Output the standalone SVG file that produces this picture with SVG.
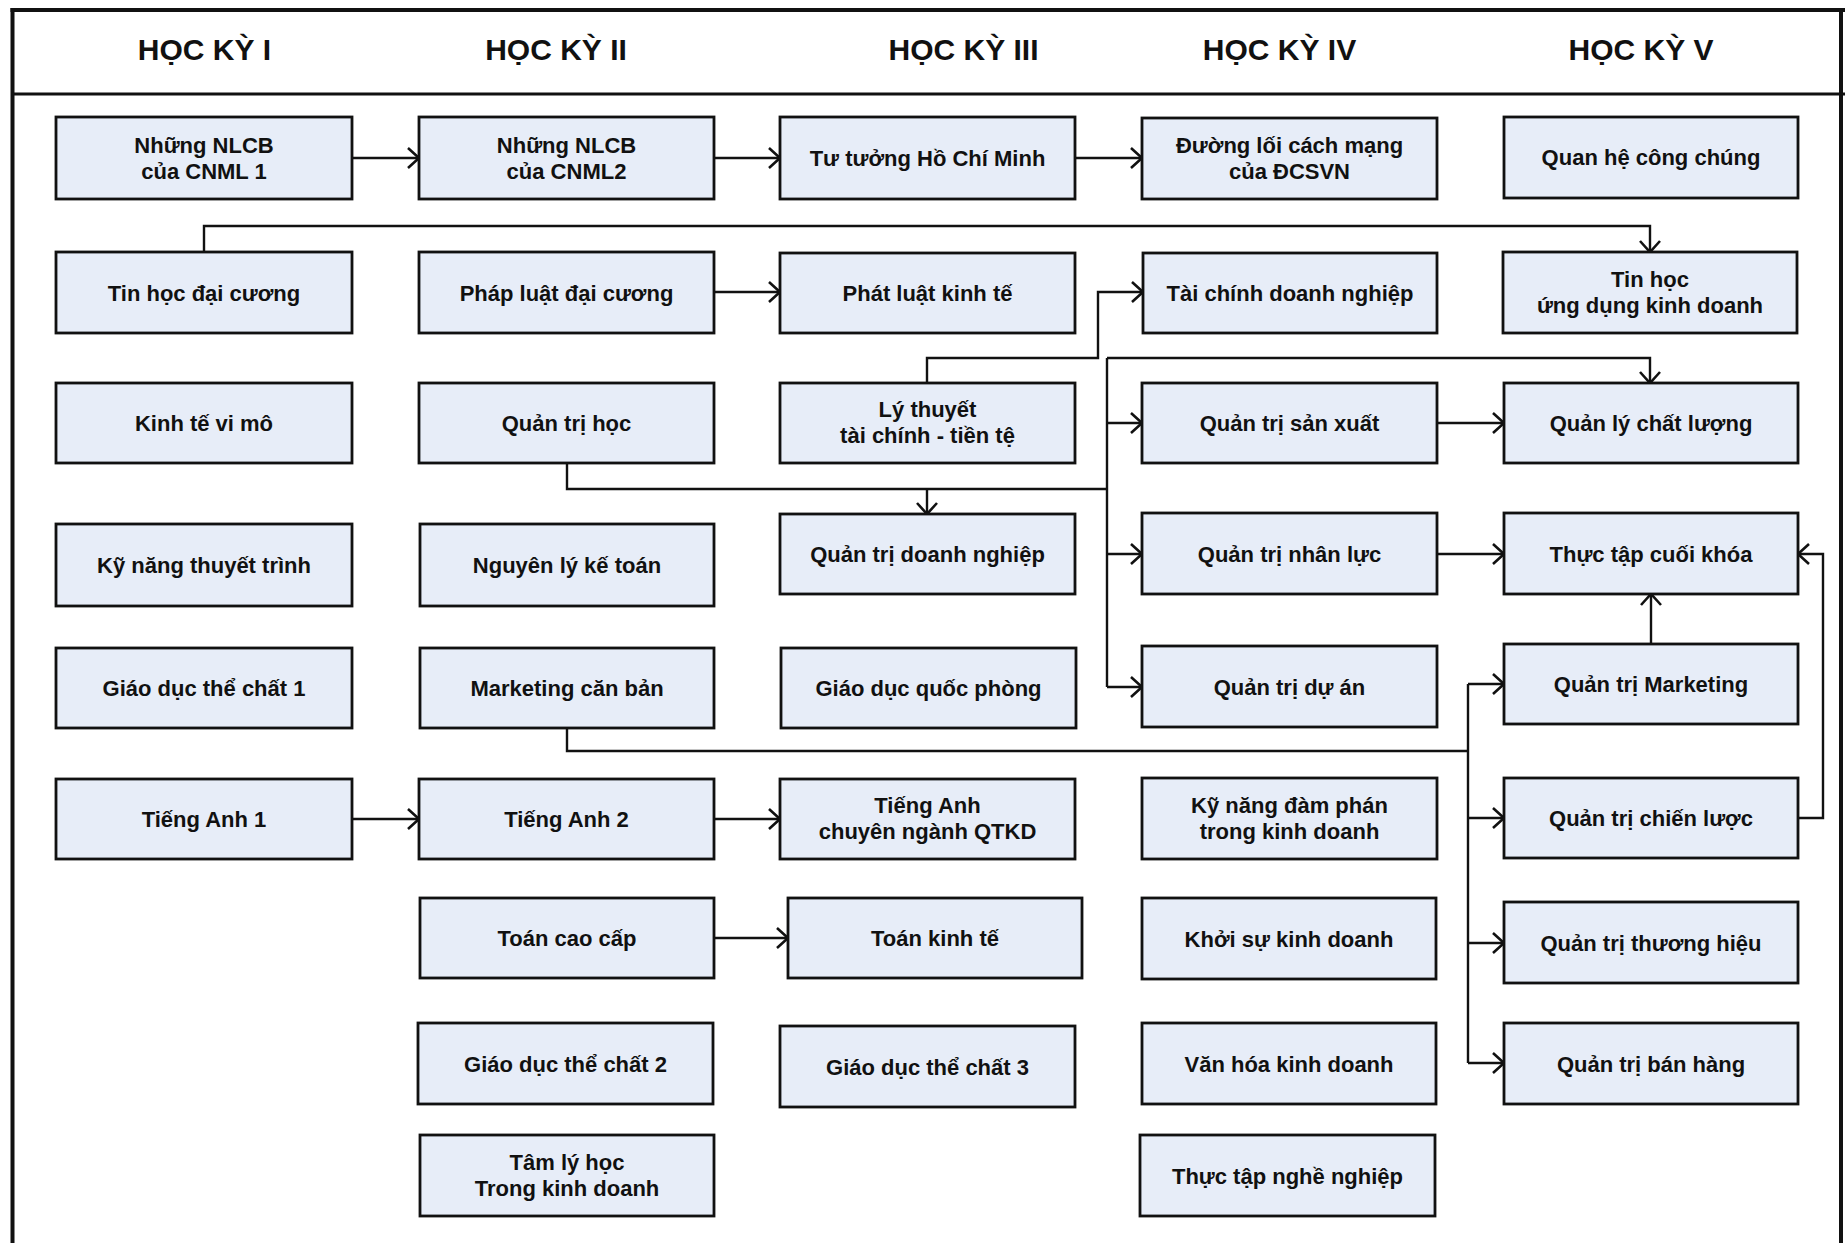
<svg xmlns="http://www.w3.org/2000/svg" width="1845" height="1243" viewBox="0 0 1845 1243">
<style>
.bx{fill:#E7EDF8;stroke:#111;stroke-width:2.8}
.t{font-family:"Liberation Sans",Arial,sans-serif;font-weight:bold;font-size:22px;fill:#111;text-anchor:middle}
.h{font-family:"Liberation Sans",Arial,sans-serif;font-weight:bold;font-size:30px;fill:#111;text-anchor:middle}
.c{fill:none;stroke:#111;stroke-width:2.4}
.ca{fill:none;stroke:#111;stroke-width:2.4;marker-end:url(#arr)}
.fr{fill:none;stroke:#111}
</style>
<defs>
<marker id="arr" viewBox="-13 -12 15 24" markerWidth="15" markerHeight="24" refX="0" refY="0" orient="auto" markerUnits="userSpaceOnUse">
<path d="M-11,-10 L0,0 L-11,10" fill="none" stroke="#111" stroke-width="2.6"/>
</marker>
</defs>
<rect width="1845" height="1243" fill="#fff"/>
<g id="frame">
<line class="fr" x1="10.5" y1="10" x2="1845" y2="10" stroke-width="4"/>
<line class="fr" x1="12.5" y1="8" x2="12.5" y2="1243" stroke-width="4"/>
<line class="fr" x1="1841" y1="8" x2="1841" y2="1243" stroke-width="4"/>
<line class="fr" x1="12" y1="94" x2="1845" y2="94" stroke-width="3"/>
</g>
<g id="headers">
<text class="h" x="204.5" y="59.5">HỌC KỲ I</text>
<text class="h" x="556" y="59.5">HỌC KỲ II</text>
<text class="h" x="963.5" y="59.5">HỌC KỲ III</text>
<text class="h" x="1279.5" y="59.5">HỌC KỲ IV</text>
<text class="h" x="1641" y="59.5">HỌC KỲ V</text>
</g>
<g id="connectors">
<line class="ca" x1="352" y1="158" x2="419" y2="158"/>
<line class="ca" x1="714" y1="158" x2="780" y2="158"/>
<line class="ca" x1="1075" y1="158" x2="1142" y2="158"/>
<path class="ca" d="M204,252 V226 H1650 V252"/>
<line class="ca" x1="714" y1="292" x2="780" y2="292"/>
<path class="ca" d="M927,383 V358 H1098 V292 H1143"/>
<path class="c" d="M567,463 V489 H1107"/>
<path class="ca" d="M927,489 V514"/>
<path class="c" d="M1107,358 V687"/>
<path class="ca" d="M1107,358 H1650 V383"/>
<line class="ca" x1="1107" y1="423" x2="1142" y2="423"/>
<line class="ca" x1="1107" y1="554" x2="1142" y2="554"/>
<line class="ca" x1="1107" y1="687" x2="1142" y2="687"/>
<line class="ca" x1="1437" y1="423" x2="1504" y2="423"/>
<line class="ca" x1="1437" y1="554" x2="1504" y2="554"/>
<line class="ca" x1="1651" y1="644" x2="1651" y2="594"/>
<path class="ca" d="M1798,818 H1823 V554 H1798"/>
<path class="c" d="M567,728 V751 H1468"/>
<path class="c" d="M1468,684 V1063"/>
<line class="ca" x1="1468" y1="684" x2="1504" y2="684"/>
<line class="ca" x1="1468" y1="818" x2="1504" y2="818"/>
<line class="ca" x1="1468" y1="943" x2="1504" y2="943"/>
<line class="ca" x1="1468" y1="1063" x2="1504" y2="1063"/>
<line class="ca" x1="352" y1="819" x2="419" y2="819"/>
<line class="ca" x1="714" y1="819" x2="780" y2="819"/>
<line class="ca" x1="714" y1="938" x2="788" y2="938"/>
</g>
<g id="n-nlcb1"><rect class="bx" x="56" y="117" width="296" height="82"/><text class="t" x="204" y="152.5">Những NLCB</text><text class="t" x="204" y="178.5">của CNML 1</text></g>
<g id="n-tinhocdc"><rect class="bx" x="56" y="252" width="296" height="81"/><text class="t" x="204" y="300.5">Tin học đại cương</text></g>
<g id="n-kinhtevimo"><rect class="bx" x="56" y="383" width="296" height="80"/><text class="t" x="204" y="431">Kinh tế vi mô</text></g>
<g id="n-kynangtt"><rect class="bx" x="56" y="524" width="296" height="82"/><text class="t" x="204" y="573">Kỹ năng thuyết trình</text></g>
<g id="n-gdtc1"><rect class="bx" x="56" y="648" width="296" height="80"/><text class="t" x="204" y="696">Giáo dục thể chất 1</text></g>
<g id="n-tienganh1"><rect class="bx" x="56" y="779" width="296" height="80"/><text class="t" x="204" y="827">Tiếng Anh 1</text></g>

<g id="n-nlcb2"><rect class="bx" x="419" y="117" width="295" height="82"/><text class="t" x="566.5" y="152.5">Những NLCB</text><text class="t" x="566.5" y="178.5">của CNML2</text></g>
<g id="n-phapluatdc"><rect class="bx" x="419" y="252" width="295" height="81"/><text class="t" x="566.5" y="300.5">Pháp luật đại cương</text></g>
<g id="n-quantrihoc"><rect class="bx" x="419" y="383" width="295" height="80"/><text class="t" x="566.5" y="431">Quản trị học</text></g>
<g id="n-nguyenlykt"><rect class="bx" x="420" y="524" width="294" height="82"/><text class="t" x="567" y="573">Nguyên lý kế toán</text></g>
<g id="n-marketingcb"><rect class="bx" x="420" y="648" width="294" height="80"/><text class="t" x="567" y="696">Marketing căn bản</text></g>
<g id="n-tienganh2"><rect class="bx" x="419" y="779" width="295" height="80"/><text class="t" x="566.5" y="827">Tiếng Anh 2</text></g>
<g id="n-toancc"><rect class="bx" x="420" y="898" width="294" height="80"/><text class="t" x="567" y="946">Toán cao cấp</text></g>
<g id="n-gdtc2"><rect class="bx" x="418" y="1023" width="295" height="81"/><text class="t" x="565.5" y="1071.5">Giáo dục thể chất 2</text></g>
<g id="n-tamlyhoc"><rect class="bx" x="420" y="1135" width="294" height="81"/><text class="t" x="567" y="1170">Tâm lý học</text><text class="t" x="567" y="1196">Trong kinh doanh</text></g>

<g id="n-tthcm"><rect class="bx" x="780" y="117" width="295" height="82"/><text class="t" x="927.5" y="166">Tư tưởng Hồ Chí Minh</text></g>
<g id="n-phatluatkt"><rect class="bx" x="780" y="253" width="295" height="80"/><text class="t" x="927.5" y="301">Phát luật kinh tế</text></g>
<g id="n-lythuyettc"><rect class="bx" x="780" y="383" width="295" height="80"/><text class="t" x="927.5" y="417">Lý thuyết</text><text class="t" x="927.5" y="443">tài chính - tiền tệ</text></g>
<g id="n-qtdn"><rect class="bx" x="780" y="514" width="295" height="80"/><text class="t" x="927.5" y="562">Quản trị doanh nghiệp</text></g>
<g id="n-gdqp"><rect class="bx" x="781" y="648" width="295" height="80"/><text class="t" x="928.5" y="696">Giáo dục quốc phòng</text></g>
<g id="n-tacn"><rect class="bx" x="780" y="779" width="295" height="80"/><text class="t" x="927.5" y="813">Tiếng Anh</text><text class="t" x="927.5" y="839">chuyên ngành QTKD</text></g>
<g id="n-toankt"><rect class="bx" x="788" y="898" width="294" height="80"/><text class="t" x="935" y="946">Toán kinh tế</text></g>
<g id="n-gdtc3"><rect class="bx" x="780" y="1026" width="295" height="81"/><text class="t" x="927.5" y="1074.5">Giáo dục thể chất 3</text></g>

<g id="n-duongloi"><rect class="bx" x="1142" y="118" width="295" height="81"/><text class="t" x="1289.5" y="153">Đường lối cách mạng</text><text class="t" x="1289.5" y="179">của ĐCSVN</text></g>
<g id="n-taichinhdn"><rect class="bx" x="1143" y="253" width="294" height="80"/><text class="t" x="1290" y="301">Tài chính doanh nghiệp</text></g>
<g id="n-qtsx"><rect class="bx" x="1142" y="383" width="295" height="80"/><text class="t" x="1289.5" y="431">Quản trị sản xuất</text></g>
<g id="n-qtnl"><rect class="bx" x="1142" y="513" width="295" height="81"/><text class="t" x="1289.5" y="561.5">Quản trị nhân lực</text></g>
<g id="n-qtda"><rect class="bx" x="1142" y="646" width="295" height="81"/><text class="t" x="1289.5" y="694.5">Quản trị dự án</text></g>
<g id="n-kndp"><rect class="bx" x="1142" y="778" width="295" height="81"/><text class="t" x="1289.5" y="812.5">Kỹ năng đàm phán</text><text class="t" x="1289.5" y="838.5">trong kinh doanh</text></g>
<g id="n-khoisu"><rect class="bx" x="1142" y="898" width="294" height="81"/><text class="t" x="1289" y="946.5">Khởi sự kinh doanh</text></g>
<g id="n-vanhoa"><rect class="bx" x="1142" y="1023" width="294" height="81"/><text class="t" x="1289" y="1071.5">Văn hóa kinh doanh</text></g>
<g id="n-ttnn"><rect class="bx" x="1140" y="1135" width="295" height="81"/><text class="t" x="1287.5" y="1183.5">Thực tập nghề nghiệp</text></g>

<g id="n-quanhecc"><rect class="bx" x="1504" y="117" width="294" height="81"/><text class="t" x="1651" y="165">Quan hệ công chúng</text></g>
<g id="n-tinhocud"><rect class="bx" x="1503" y="252" width="294" height="81"/><text class="t" x="1650" y="287">Tin học</text><text class="t" x="1650" y="313">ứng dụng kinh doanh</text></g>
<g id="n-qlcl"><rect class="bx" x="1504" y="383" width="294" height="80"/><text class="t" x="1651" y="431">Quản lý chất lượng</text></g>
<g id="n-ttck"><rect class="bx" x="1504" y="513" width="294" height="81"/><text class="t" x="1651" y="561.5">Thực tập cuối khóa</text></g>
<g id="n-qtmkt"><rect class="bx" x="1504" y="644" width="294" height="80"/><text class="t" x="1651" y="692">Quản trị Marketing</text></g>
<g id="n-qtcl"><rect class="bx" x="1504" y="778" width="294" height="80"/><text class="t" x="1651" y="826">Quản trị chiến lược</text></g>
<g id="n-qtth"><rect class="bx" x="1504" y="902" width="294" height="81"/><text class="t" x="1651" y="950.5">Quản trị thương hiệu</text></g>
<g id="n-qtbh"><rect class="bx" x="1504" y="1023" width="294" height="81"/><text class="t" x="1651" y="1071.5">Quản trị bán hàng</text></g>
</svg>
